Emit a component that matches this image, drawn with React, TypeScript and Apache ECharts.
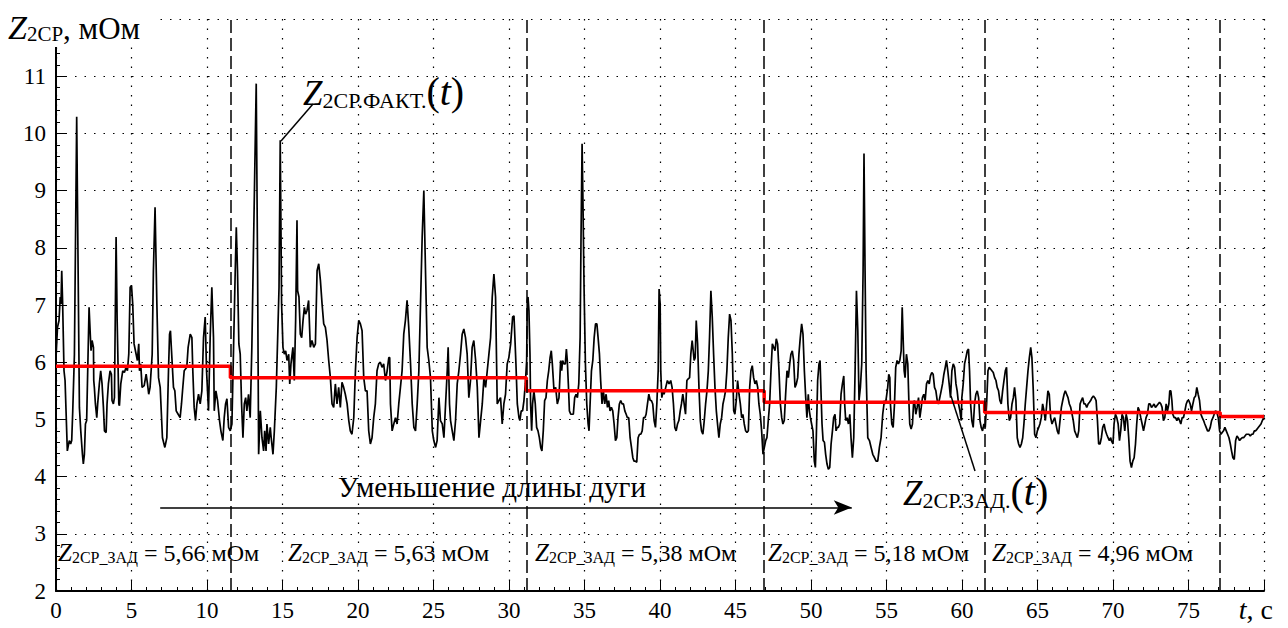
import React, { useEffect, useRef } from 'react';
import * as echarts from 'echarts';

const SERIF = "'Liberation Serif', 'Times New Roman', serif";

// Z2CP.FACT(t): measured secondary-circuit impedance, [time s, mOhm]
const zFact00: number[][] = [
  [0, 6.08], [0.1, 6.61], [0.2, 6.73], [0.28, 7.14], [0.33, 7.02], [0.38, 7.6], [0.44, 7.02], [0.53, 5.85], [0.6, 5.68], [0.75, 4.45],
  [0.88, 4.63], [0.97, 4.57], [1.04, 4.63], [1.11, 5.15], [1.22, 6.14], [1.37, 10.29], [1.55, 5.21], [1.64, 4.8], [1.75, 4.39], [1.81, 4.22],
  [1.88, 4.39], [1.95, 4.92], [2.03, 4.98], [2.1, 5.85], [2.19, 6.96], [2.28, 6.43], [2.32, 6.2], [2.39, 6.38], [2.48, 6.26], [2.5, 5.68],
  [2.54, 5.56], [2.61, 5.27], [2.7, 5.03], [2.76, 5.27], [2.87, 5.62], [2.96, 5.85], [3.05, 5.62], [3.14, 5.21], [3.21, 4.8], [3.32, 4.77],
  [3.38, 5.27], [3.47, 5.62], [3.58, 5.85], [3.67, 5.79], [3.71, 5.33], [3.8, 5.27], [3.87, 5.38], [3.98, 8.19], [4.05, 6.73], [4.16, 5.27],
  [4.2, 5.24], [4.29, 5.62], [4.42, 5.85], [4.53, 5.82], [4.64, 5.91], [4.73, 5.85], [4.82, 6.14], [4.91, 7.31], [5.0, 7.34], [5.08, 7.02],
  [5.17, 6.32], [5.26, 6.2], [5.39, 6.03], [5.48, 6.32], [5.53, 5.85], [5.61, 5.97], [5.7, 5.56], [5.84, 5.59], [5.97, 5.79], [6.06, 5.62],
  [6.14, 5.44], [6.23, 5.56], [6.37, 6.14], [6.45, 7.6], [6.56, 8.71], [6.68, 7.02], [6.79, 5.73], [6.9, 5.56], [7.05, 4.68], [7.21, 4.51],
  [7.34, 4.68], [7.45, 5.85], [7.52, 6.49], [7.58, 6.55], [7.65, 6.2], [7.78, 5.56], [7.87, 5.5], [7.96, 5.15], [8.09, 5.09], [8.22, 5.03],
  [8.31, 5.27], [8.38, 5.5], [8.49, 5.85], [8.66, 5.91], [8.75, 6.26], [8.89, 6.49], [9.0, 6.43], [9.06, 5.85], [9.15, 5.21], [9.24, 4.98],
  [9.33, 5.27], [9.44, 5.44], [9.55, 5.27], [9.66, 5.5], [9.77, 6.43], [9.88, 6.79], [9.97, 5.85], [10.1, 5.15],
];

const zFact10: number[][] = [
  [10.21, 6.43], [10.32, 7.31], [10.43, 6.43], [10.48, 5.15], [10.59, 5.5], [10.7, 5.33], [10.83, 4.98], [10.92, 4.8], [11.05, 4.63], [11.14, 5.03],
  [11.23, 5.27], [11.32, 5.36], [11.43, 4.86], [11.54, 4.8], [11.65, 4.92], [11.76, 6.26], [11.87, 7.6], [11.94, 8.36], [12.02, 7.6], [12.11, 6.32],
  [12.2, 6.14], [12.29, 5.27], [12.38, 4.68], [12.47, 5.27], [12.56, 5.38], [12.64, 5.15], [12.75, 5.44], [12.86, 5.03], [12.97, 6.26], [13.09, 8.19],
  [13.2, 9.94], [13.26, 10.87], [13.35, 7.6], [13.42, 4.39], [13.53, 5.15], [13.64, 4.68], [13.75, 4.45], [13.82, 4.8], [13.91, 4.45], [13.97, 4.92],
  [14.08, 4.57], [14.19, 4.86], [14.25, 4.68], [14.37, 4.39], [14.46, 4.8], [14.59, 5.56], [14.68, 6.43], [14.77, 7.31], [14.85, 9.88], [14.94, 7.02],
  [15.03, 6.26], [15.12, 6.14], [15.21, 6.2], [15.3, 6.03], [15.41, 6.14], [15.48, 5.62], [15.56, 5.97], [15.69, 6.26], [15.78, 5.68], [15.87, 6.73],
  [15.96, 8.48], [16.0, 7.25], [16.09, 7.14], [16.18, 6.49], [16.27, 6.43], [16.36, 6.73], [16.45, 6.96], [16.53, 6.84], [16.62, 6.9], [16.73, 7.08],
  [16.84, 6.26], [16.95, 6.38], [17.07, 6.26], [17.18, 6.32], [17.29, 7.6], [17.4, 7.72], [17.51, 7.43], [17.62, 7.02], [17.73, 6.67], [17.84, 6.61],
  [17.95, 6.38], [18.06, 6.03], [18.17, 5.73], [18.28, 5.27], [18.39, 5.21], [18.5, 5.62], [18.61, 5.27], [18.72, 5.56], [18.83, 5.21], [18.94, 5.65],
  [19.05, 5.56], [19.16, 5.44], [19.28, 5.27], [19.39, 4.98], [19.49, 4.8], [19.6, 4.74], [19.72, 5.03], [19.83, 5.85], [19.94, 6.43], [20.05, 6.73],
  [20.16, 6.67],
];

const zFact20: number[][] = [
  [20.27, 6.55], [20.38, 5.73], [20.49, 5.5], [20.6, 5.5], [20.71, 4.8], [20.82, 4.57], [20.93, 4.68], [21.04, 5.03], [21.15, 5.27], [21.26, 5.85],
  [21.37, 5.97], [21.48, 6.0], [21.59, 5.91], [21.7, 5.97], [21.82, 5.68], [21.93, 5.85], [22.04, 6.08], [22.1, 6.08], [22.15, 5.27], [22.26, 4.8],
  [22.37, 4.92], [22.48, 5.03], [22.59, 4.92], [22.7, 5.27], [22.81, 5.56], [22.92, 5.85], [23.03, 6.49], [23.14, 6.73], [23.25, 7.08], [23.36, 6.61],
  [23.48, 5.97], [23.59, 5.27], [23.7, 4.86], [23.81, 4.8], [23.92, 5.27], [24.03, 5.85], [24.14, 7.02], [24.25, 8.19], [24.36, 9.0], [24.47, 7.6],
  [24.58, 6.26], [24.69, 6.03], [24.8, 5.73], [24.92, 4.8], [25.02, 4.63], [25.14, 4.51], [25.24, 4.63], [25.36, 5.38], [25.46, 4.98], [25.58, 4.92],
  [25.69, 4.68], [25.8, 5.27], [25.91, 5.85], [25.97, 6.26], [26.06, 5.27], [26.13, 4.98], [26.24, 4.8], [26.35, 4.63], [26.46, 4.98], [26.57, 5.62],
  [26.68, 5.85], [26.79, 6.14], [26.9, 6.49], [27.01, 6.58], [27.12, 6.43], [27.23, 6.14], [27.34, 5.38], [27.45, 5.68], [27.56, 6.26], [27.67, 6.38],
  [27.79, 6.03], [27.9, 5.56], [28.01, 4.68], [28.12, 4.98], [28.23, 5.27], [28.34, 5.73], [28.45, 5.56], [28.56, 5.85], [28.67, 6.14], [28.78, 6.43],
  [28.89, 7.14], [29.0, 7.54], [29.11, 7.14], [29.22, 5.27], [29.33, 5.33], [29.44, 5.38], [29.55, 4.92], [29.66, 5.27], [29.77, 5.44], [29.88, 5.97],
  [29.99, 6.08], [30.11, 6.32],
];

const zFact30: number[][] = [
  [30.24, 6.79], [30.33, 6.81], [30.39, 6.43], [30.46, 5.97], [30.55, 5.27], [30.66, 5.03], [30.72, 4.98], [30.81, 5.15], [30.9, 5.15], [30.99, 5.33],
  [31.08, 5.62], [31.17, 6.03], [31.21, 7.08], [31.26, 7.14], [31.32, 6.9], [31.39, 6.14], [31.43, 5.27], [31.5, 4.8], [31.56, 5.27], [31.65, 5.5],
  [31.74, 5.27], [31.83, 4.86], [31.92, 4.8], [32.01, 4.68], [32.1, 4.51], [32.18, 4.45], [32.27, 4.8], [32.36, 5.33], [32.45, 5.38], [32.54, 5.68],
  [32.63, 5.85], [32.72, 6.08], [32.8, 6.2], [32.87, 5.97], [32.98, 5.5], [33.09, 5.56], [33.2, 5.27], [33.31, 5.38], [33.42, 6.03], [33.49, 5.85],
  [33.55, 6.03], [33.64, 5.97], [33.73, 5.97], [33.8, 6.23], [33.86, 6.03], [33.93, 5.62], [34.0, 5.15], [34.09, 5.09], [34.18, 5.09], [34.26, 5.09],
  [34.35, 5.38], [34.44, 5.44], [34.53, 5.38], [34.62, 5.62], [34.71, 6.43], [34.77, 8.19], [34.84, 9.82], [34.9, 8.77], [34.97, 7.31], [35.06, 5.97],
  [35.15, 5.27], [35.24, 4.92], [35.3, 4.8], [35.37, 5.27], [35.46, 5.85], [35.55, 6.03], [35.64, 6.43], [35.73, 6.67], [35.82, 6.67], [35.9, 6.43],
  [35.99, 6.14], [36.07, 5.68], [36.16, 5.27], [36.25, 5.5], [36.34, 5.27], [36.43, 5.44], [36.52, 5.21], [36.6, 5.33], [36.69, 5.15], [36.78, 5.21],
  [36.87, 5.15], [36.96, 4.92], [37.05, 4.63], [37.14, 4.68], [37.22, 5.03], [37.31, 5.27], [37.4, 5.33], [37.49, 5.27], [37.58, 5.27], [37.67, 5.15],
  [37.76, 5.09], [37.84, 5.03], [37.93, 5.03], [38.02, 4.68], [38.11, 4.51], [38.2, 4.33], [38.28, 4.27], [38.37, 4.27], [38.46, 4.25], [38.55, 4.68],
  [38.64, 4.74], [38.73, 4.74], [38.82, 4.8], [38.91, 5.03], [39.0, 5.03], [39.08, 5.09], [39.17, 5.27], [39.26, 5.44], [39.35, 5.33], [39.43, 5.33],
  [39.52, 5.27], [39.61, 4.98], [39.7, 4.86], [39.79, 5.27], [39.88, 5.85],
];

const zFact40: number[][] = [
  [39.94, 7.28], [40.01, 7.02], [40.05, 5.85], [40.12, 5.38], [40.21, 5.5], [40.27, 5.44], [40.38, 5.56], [40.49, 5.68], [40.6, 5.62], [40.71, 5.68],
  [40.8, 5.56], [40.89, 5.27], [40.98, 4.86], [41.07, 4.8], [41.16, 4.92], [41.25, 4.98], [41.34, 5.15], [41.42, 5.27], [41.51, 5.44], [41.6, 5.27],
  [41.69, 5.09], [41.78, 5.68], [41.87, 5.71], [41.96, 5.73], [42.04, 6.14], [42.13, 6.38], [42.2, 6.2], [42.26, 6.03], [42.33, 6.08], [42.4, 6.73],
  [42.49, 6.32], [42.58, 5.56], [42.67, 4.98], [42.75, 4.8], [42.84, 4.74], [42.93, 4.98], [43.02, 5.27], [43.11, 5.5], [43.2, 5.85], [43.28, 6.43],
  [43.37, 7.25], [43.46, 6.79], [43.55, 6.14], [43.64, 5.56], [43.73, 5.15], [43.81, 4.92], [43.9, 4.68], [43.99, 4.92], [44.08, 5.03], [44.17, 5.27],
  [44.26, 5.38], [44.34, 5.5], [44.43, 5.85], [44.52, 6.43], [44.61, 6.84], [44.7, 6.73], [44.79, 6.14], [44.88, 5.15], [44.96, 5.09], [45.05, 5.33],
  [45.14, 5.68], [45.23, 5.44], [45.32, 5.27], [45.41, 5.03], [45.49, 5.09], [45.58, 4.92], [45.67, 4.8], [45.76, 4.77], [45.85, 4.8], [45.94, 5.56],
  [46.02, 5.85], [46.11, 5.94], [46.2, 5.73], [46.29, 5.62], [46.38, 5.68], [46.47, 5.56], [46.55, 5.27], [46.64, 5.09], [46.73, 4.8], [46.82, 4.39],
  [46.91, 4.51], [47.0, 4.63], [47.08, 4.68], [47.17, 4.98], [47.26, 5.27], [47.35, 5.85], [47.44, 6.32], [47.53, 6.26], [47.62, 6.2], [47.7, 6.41],
  [47.79, 6.32], [47.88, 5.85], [47.97, 5.27], [48.06, 5.03], [48.14, 4.92], [48.23, 4.98], [48.32, 5.44], [48.41, 5.85], [48.5, 5.73], [48.59, 5.97],
  [48.67, 6.14], [48.76, 6.2], [48.85, 6.03], [48.94, 5.56], [49.03, 5.62], [49.12, 5.73], [49.2, 6.14], [49.29, 6.43], [49.38, 6.67], [49.47, 6.49],
  [49.56, 5.85], [49.65, 5.38], [49.73, 5.03], [49.82, 5.44],
];

const zFact50: number[][] = [
  [49.89, 5.15], [49.96, 5.03], [50.04, 4.92], [50.13, 4.8], [50.22, 4.27], [50.29, 4.16], [50.35, 4.68], [50.44, 5.68], [50.53, 5.97], [50.6, 6.03],
  [50.66, 5.5], [50.73, 4.92], [50.8, 4.63], [50.89, 4.6], [50.97, 4.39], [51.06, 4.22], [51.15, 4.13], [51.24, 4.16], [51.33, 4.57], [51.42, 4.8],
  [51.5, 5.03], [51.59, 5.09], [51.66, 4.8], [51.73, 4.86], [51.81, 4.86], [51.9, 4.92], [51.99, 5.44], [52.08, 5.62], [52.17, 5.76], [52.23, 5.27],
  [52.3, 4.98], [52.39, 5.03], [52.48, 4.92], [52.57, 5.09], [52.65, 4.68], [52.74, 4.33], [52.83, 4.68], [52.92, 5.85], [53.01, 7.25], [53.1, 6.55],
  [53.18, 5.33], [53.27, 5.56], [53.36, 5.97], [53.45, 7.6], [53.51, 9.65], [53.58, 7.6], [53.65, 5.85], [53.76, 4.68], [53.87, 4.63], [53.98, 4.51],
  [54.09, 4.39], [54.2, 4.33], [54.31, 4.27], [54.42, 4.27], [54.53, 4.51], [54.64, 4.68], [54.75, 5.09], [54.86, 5.33], [54.93, 5.27], [54.99, 5.38],
  [55.08, 5.56], [55.15, 5.79], [55.22, 5.73], [55.26, 5.27], [55.35, 4.92], [55.44, 4.86], [55.53, 5.27], [55.61, 5.91], [55.7, 6.03], [55.79, 5.97],
  [55.88, 6.03], [55.97, 6.2], [56.04, 6.96], [56.1, 6.43], [56.17, 5.85], [56.23, 5.73], [56.32, 6.14], [56.41, 5.97], [56.48, 5.33], [56.54, 4.92],
  [56.63, 4.83], [56.72, 4.92], [56.79, 5.27], [56.85, 5.33], [56.94, 5.09], [57.03, 5.21], [57.12, 5.38], [57.21, 5.03], [57.3, 5.21], [57.38, 5.38],
  [57.47, 5.44], [57.56, 5.33], [57.65, 5.62], [57.74, 5.68], [57.83, 5.62], [57.91, 5.76], [58.0, 5.82], [58.09, 5.79], [58.18, 5.56], [58.27, 5.5],
  [58.36, 5.33], [58.44, 5.27], [58.53, 5.38], [58.62, 5.5], [58.71, 5.62], [58.8, 5.79], [58.89, 5.91], [58.97, 6.03], [59.06, 5.85], [59.15, 5.62],
  [59.24, 5.38], [59.33, 5.85], [59.42, 5.97], [59.51, 5.91], [59.6, 5.62], [59.68, 5.5], [59.77, 5.27], [59.86, 5.15], [59.95, 4.98],
];

const zFact60: number[][] = [
  [59.99, 5.38], [60.08, 5.62], [60.17, 5.97], [60.26, 6.08], [60.35, 6.2], [60.43, 6.23], [60.5, 5.85], [60.57, 5.27], [60.65, 4.98], [60.74, 4.86],
  [60.83, 5.27], [60.92, 5.44], [61.01, 5.5], [61.1, 5.38], [61.19, 4.98], [61.27, 4.86], [61.36, 4.8], [61.45, 4.92], [61.54, 4.86], [61.63, 5.27],
  [61.72, 5.85], [61.8, 5.91], [61.89, 5.88], [61.98, 5.85], [62.07, 5.82], [62.16, 5.73], [62.25, 5.68], [62.33, 5.56], [62.42, 5.5], [62.51, 5.33],
  [62.6, 5.27], [62.69, 5.5], [62.78, 5.68], [62.87, 5.85], [62.95, 5.91], [63.04, 5.27], [63.13, 4.98], [63.22, 5.03], [63.31, 5.27], [63.4, 5.38],
  [63.48, 5.56], [63.57, 5.33], [63.66, 4.68], [63.75, 4.57], [63.84, 4.51], [63.93, 4.57], [64.02, 4.68], [64.1, 4.92], [64.19, 5.27], [64.28, 5.56],
  [64.37, 5.85], [64.46, 6.08], [64.55, 6.26], [64.63, 6.08], [64.72, 5.5], [64.81, 4.74], [64.9, 4.68], [64.99, 4.8], [65.08, 4.86], [65.16, 4.92],
  [65.25, 5.03], [65.34, 5.27], [65.43, 5.15], [65.52, 4.98], [65.61, 5.27], [65.69, 5.5], [65.78, 5.44], [65.87, 5.03], [65.96, 4.92], [66.05, 4.98],
  [66.14, 5.03], [66.22, 4.92], [66.31, 4.8], [66.4, 4.74], [66.49, 4.98], [66.58, 5.21], [66.67, 5.33], [66.76, 5.44], [66.84, 5.5], [66.93, 5.44],
  [67.02, 5.38], [67.11, 5.27], [67.2, 5.21], [67.29, 5.09], [67.37, 4.98], [67.46, 4.8], [67.55, 4.74], [67.64, 4.68], [67.73, 4.8], [67.82, 5.27],
  [67.9, 5.33], [67.99, 5.38], [68.08, 5.27], [68.17, 5.27], [68.26, 5.21], [68.35, 5.27], [68.44, 5.3], [68.52, 5.33], [68.61, 5.38], [68.7, 5.41],
  [68.79, 5.38], [68.88, 5.33], [68.97, 4.98], [69.05, 4.57], [69.14, 4.57], [69.23, 4.68], [69.32, 4.86], [69.41, 4.92], [69.5, 4.8], [69.58, 4.74],
  [69.67, 4.68], [69.76, 4.63], [69.85, 4.68],
];

const zFact70: number[][] = [
  [69.89, 4.63], [70.0, 4.57], [70.07, 4.92], [70.16, 5.09], [70.25, 5.03], [70.34, 4.92], [70.43, 4.63], [70.51, 4.8], [70.6, 5.09], [70.69, 5.03],
  [70.78, 4.8], [70.87, 5.09], [70.96, 4.98], [71.04, 4.68], [71.13, 4.27], [71.22, 4.16], [71.31, 4.27], [71.4, 4.33], [71.49, 4.57], [71.57, 4.92],
  [71.66, 5.21], [71.75, 5.15], [71.84, 5.03], [71.93, 4.92], [72.02, 4.8], [72.11, 4.92], [72.19, 5.03], [72.28, 5.09], [72.37, 5.27], [72.46, 5.27],
  [72.55, 5.21], [72.64, 5.24], [72.72, 5.27], [72.81, 5.21], [72.9, 5.24], [72.99, 5.27], [73.08, 5.3], [73.17, 5.27], [73.25, 5.21], [73.34, 4.98],
  [73.43, 5.03], [73.52, 5.27], [73.61, 5.15], [73.7, 5.27], [73.76, 5.5], [73.83, 5.5], [73.9, 5.33], [73.96, 5.09], [74.05, 5.03], [74.14, 5.03],
  [74.23, 4.98], [74.32, 5.03], [74.41, 4.98], [74.49, 4.92], [74.58, 5.03], [74.67, 5.03], [74.76, 5.15], [74.85, 5.27], [74.94, 5.33], [75.02, 5.33],
  [75.11, 5.27], [75.2, 5.15], [75.29, 5.27], [75.38, 5.38], [75.47, 5.41], [75.55, 5.56], [75.64, 5.44], [75.73, 5.33], [75.82, 5.09], [75.91, 5.03],
  [76.0, 4.98], [76.08, 4.92], [76.17, 4.86], [76.26, 4.8], [76.35, 4.8], [76.44, 4.86], [76.53, 4.98], [76.62, 5.03], [76.7, 5.09], [76.79, 5.15],
  [76.88, 5.12], [76.97, 5.03], [77.06, 4.8], [77.15, 4.74], [77.23, 4.77], [77.32, 4.8], [77.41, 4.86], [77.5, 4.8], [77.59, 4.74], [77.68, 4.68],
  [77.77, 4.57], [77.85, 4.45], [77.94, 4.33], [78.03, 4.3], [78.12, 4.63], [78.21, 4.71], [78.29, 4.68], [78.38, 4.63], [78.47, 4.66], [78.56, 4.68],
  [78.65, 4.68], [78.74, 4.71], [78.83, 4.74], [78.91, 4.74], [79.0, 4.74], [79.09, 4.71], [79.18, 4.74], [79.27, 4.74], [79.36, 4.8], [79.45, 4.8],
  [79.54, 4.83], [79.62, 4.86], [79.71, 4.89], [79.8, 4.92], [79.89, 4.98], [79.98, 5.03], [80, 5.08],
];

// Z2CP.ZAD(t): setpoint steps — switching instants, s, and levels, mOhm
const stepTimes = [0, 11.55, 31.15, 46.9, 61.5, 77.1, 80];
const stepLevels = [5.93, 5.73, 5.5, 5.3, 5.12, 5.05];

// setpoint captions for each arc-length stage
const setpointValues = ['5,66', '5,63', '5,38', '5,18', '4,96'];
const setpointLeft = [58, 288, 535, 768, 992];

// arc-length reduction arrow, [t from, t to, level]
const arrowSpan = [6.9, 52.7, 3.46];

const xMin = 0;
const xMax = 80;
const xStep = 5;
const yMin = 2;
const yMax = 12;
const yStep = 1;

const zFact = [
  ...zFact00, ...zFact10, ...zFact20, ...zFact30,
  ...zFact40, ...zFact50, ...zFact60, ...zFact70,
];

function stepSeriesData(): number[][] {
  const out: number[][] = stepLevels.map((lv, i) => [stepTimes[i], lv]);
  out.push([stepTimes[stepTimes.length - 1], stepLevels[stepLevels.length - 1]]);
  return out;
}

// rich-text token; `drop` is the baseline distance above the line bottom
function tok(size: number, drop: number, italic = false) {
  return {
    fontFamily: SERIF,
    fontSize: size,
    fontStyle: italic ? 'italic' : 'normal',
    color: '#000',
    verticalAlign: 'bottom',
    lineHeight: Math.round(2 * (drop + 0.34 * size)),
  };
}

function richText(x: number, y: number, text: string, rich: any, extra: any = {}) {
  return {
    type: 'text',
    x,
    y,
    z: 110,
    silent: true,
    style: { text, rich, fontFamily: SERIF, verticalAlign: 'top', align: 'left', ...extra },
  };
}

const dashLine = { color: '#000', width: 1.2, type: [1.5, 8] as number[] };

export default function App() {
  const ref = useRef<HTMLDivElement>(null);

  useEffect(() => {
    if (!ref.current) return;
    const chart = echarts.init(ref.current, undefined, { renderer: 'svg' });

    const mainTok = (s: number) => tok(s, 8, false);
    const zTok = (s: number) => tok(s, 8, true);
    const subTok = (s: number) => tok(s, 6.5, false);

    const graphics: any[] = [
      // white patch behind the axis name
      { type: 'rect', z: 100, silent: true, shape: { x: 0, y: 0, width: 160, height: 47 }, style: { fill: '#fff' } },
      richText(8, 5, '{z|Z}{s|2СР}{n|, мОм}', { z: zTok(34), s: subTok(21), n: mainTok(31) }),
      richText(303, 68, '{z|Z}{s|2СР.ФАКТ.}{p|(}{t|t}{p|)}', {
        z: zTok(35), s: subTok(22), p: mainTok(40), t: tok(40, 8, true),
      }),
      richText(903, 468, '{z|Z}{s|2СР.ЗАД.}{p|(}{t|t}{p|)}', {
        z: zTok(35), s: subTok(22), p: mainTok(40), t: tok(40, 8, true),
      }),
      // pointer leaders
      { type: 'line', z: 110, silent: true, shape: { x1: 313, y1: 104, x2: 281, y2: 141 }, style: { stroke: '#000', lineWidth: 1.5 } },
      { type: 'line', z: 110, silent: true, shape: { x1: 951, y1: 396, x2: 975, y2: 471 }, style: { stroke: '#000', lineWidth: 1.5 } },
      {
        type: 'text', z: 110, silent: true, x: 492, y: 487,
        style: { text: 'Уменьшение длины дуги', fontFamily: SERIF, fontSize: 29, fill: '#000', align: 'center', verticalAlign: 'middle' },
      },
      richText(1273, 588, '{t|t}{n|, с}', { t: tok(28, 8, true), n: mainTok(28) }, { align: 'right' }),
    ];

    setpointValues.forEach((v, i) => {
      graphics.push(
        richText(setpointLeft[i], 532, `{z|Z}{s|2СР_ЗАД}{n| = ${v} мОм}`, {
          z: zTok(25), s: subTok(16), n: mainTok(24),
        }),
      );
    });

    chart.setOption({
      animation: false,
      backgroundColor: '#fff',
      textStyle: { fontFamily: SERIF },
      grid: { left: 56, right: 24, top: 19, bottom: 37 },
      xAxis: {
        type: 'value',
        min: xMin,
        max: xMax,
        interval: xStep,
        axisLine: { show: true, onZero: false, lineStyle: { color: '#000', width: 2 } },
        axisTick: { show: true, inside: true, length: 10, lineStyle: { color: '#000', width: 1 } },
        minorTick: { show: true, splitNumber: 5, length: 4, lineStyle: { color: '#000', width: 1 } },
        axisLabel: {
          color: '#000', fontFamily: SERIF, fontSize: 23, margin: 8,
          formatter: (v: number) => (v >= xMax ? '' : String(v)),
        },
        splitLine: { show: true, lineStyle: dashLine },
      },
      yAxis: {
        type: 'value',
        min: yMin,
        max: yMax,
        interval: yStep,
        axisLine: { show: true, onZero: false, lineStyle: { color: '#000', width: 2 } },
        axisTick: { show: true, inside: true, length: 10, lineStyle: { color: '#000', width: 1 } },
        minorTick: { show: true, splitNumber: 5, length: 4, lineStyle: { color: '#000', width: 1 } },
        axisLabel: {
          color: '#000', fontFamily: SERIF, fontSize: 23, margin: 10,
          formatter: (v: number) => (v >= yMax ? '' : String(v)),
        },
        splitLine: { show: true, lineStyle: dashLine },
      },
      series: [
        {
          name: 'Z2CP.FACT',
          type: 'line',
          data: zFact,
          showSymbol: false,
          z: 3,
          lineStyle: { color: '#000', width: 1.7 },
          markLine: {
            silent: true,
            symbol: ['none', 'arrow'],
            symbolSize: [11, 18],
            label: { show: false },
            lineStyle: { color: '#000', width: 1.5, type: 'solid' },
            itemStyle: { color: '#000' },
            data: [[
              { coord: [arrowSpan[0], arrowSpan[2]] },
              { coord: [arrowSpan[1], arrowSpan[2]] },
            ]],
          },
        },
        {
          name: 'Z2CP.ZAD',
          type: 'line',
          data: stepSeriesData(),
          step: 'end',
          showSymbol: false,
          z: 4,
          lineStyle: { color: '#ff0000', width: 3.5 },
          markLine: {
            silent: true,
            symbol: ['none', 'none'],
            label: { show: false },
            lineStyle: { color: '#000', width: 1.5, type: [13, 5] },
            data: stepTimes.slice(1, -1).map((t) => ({ xAxis: t })),
          },
        },
      ],
      graphic: graphics,
    });

    return () => chart.dispose();
  }, []);

  return (
    <div
      ref={ref}
      style={{ position: 'fixed', left: 0, top: 0, width: 1288, height: 628, background: '#fff' }}
    />
  );
}
